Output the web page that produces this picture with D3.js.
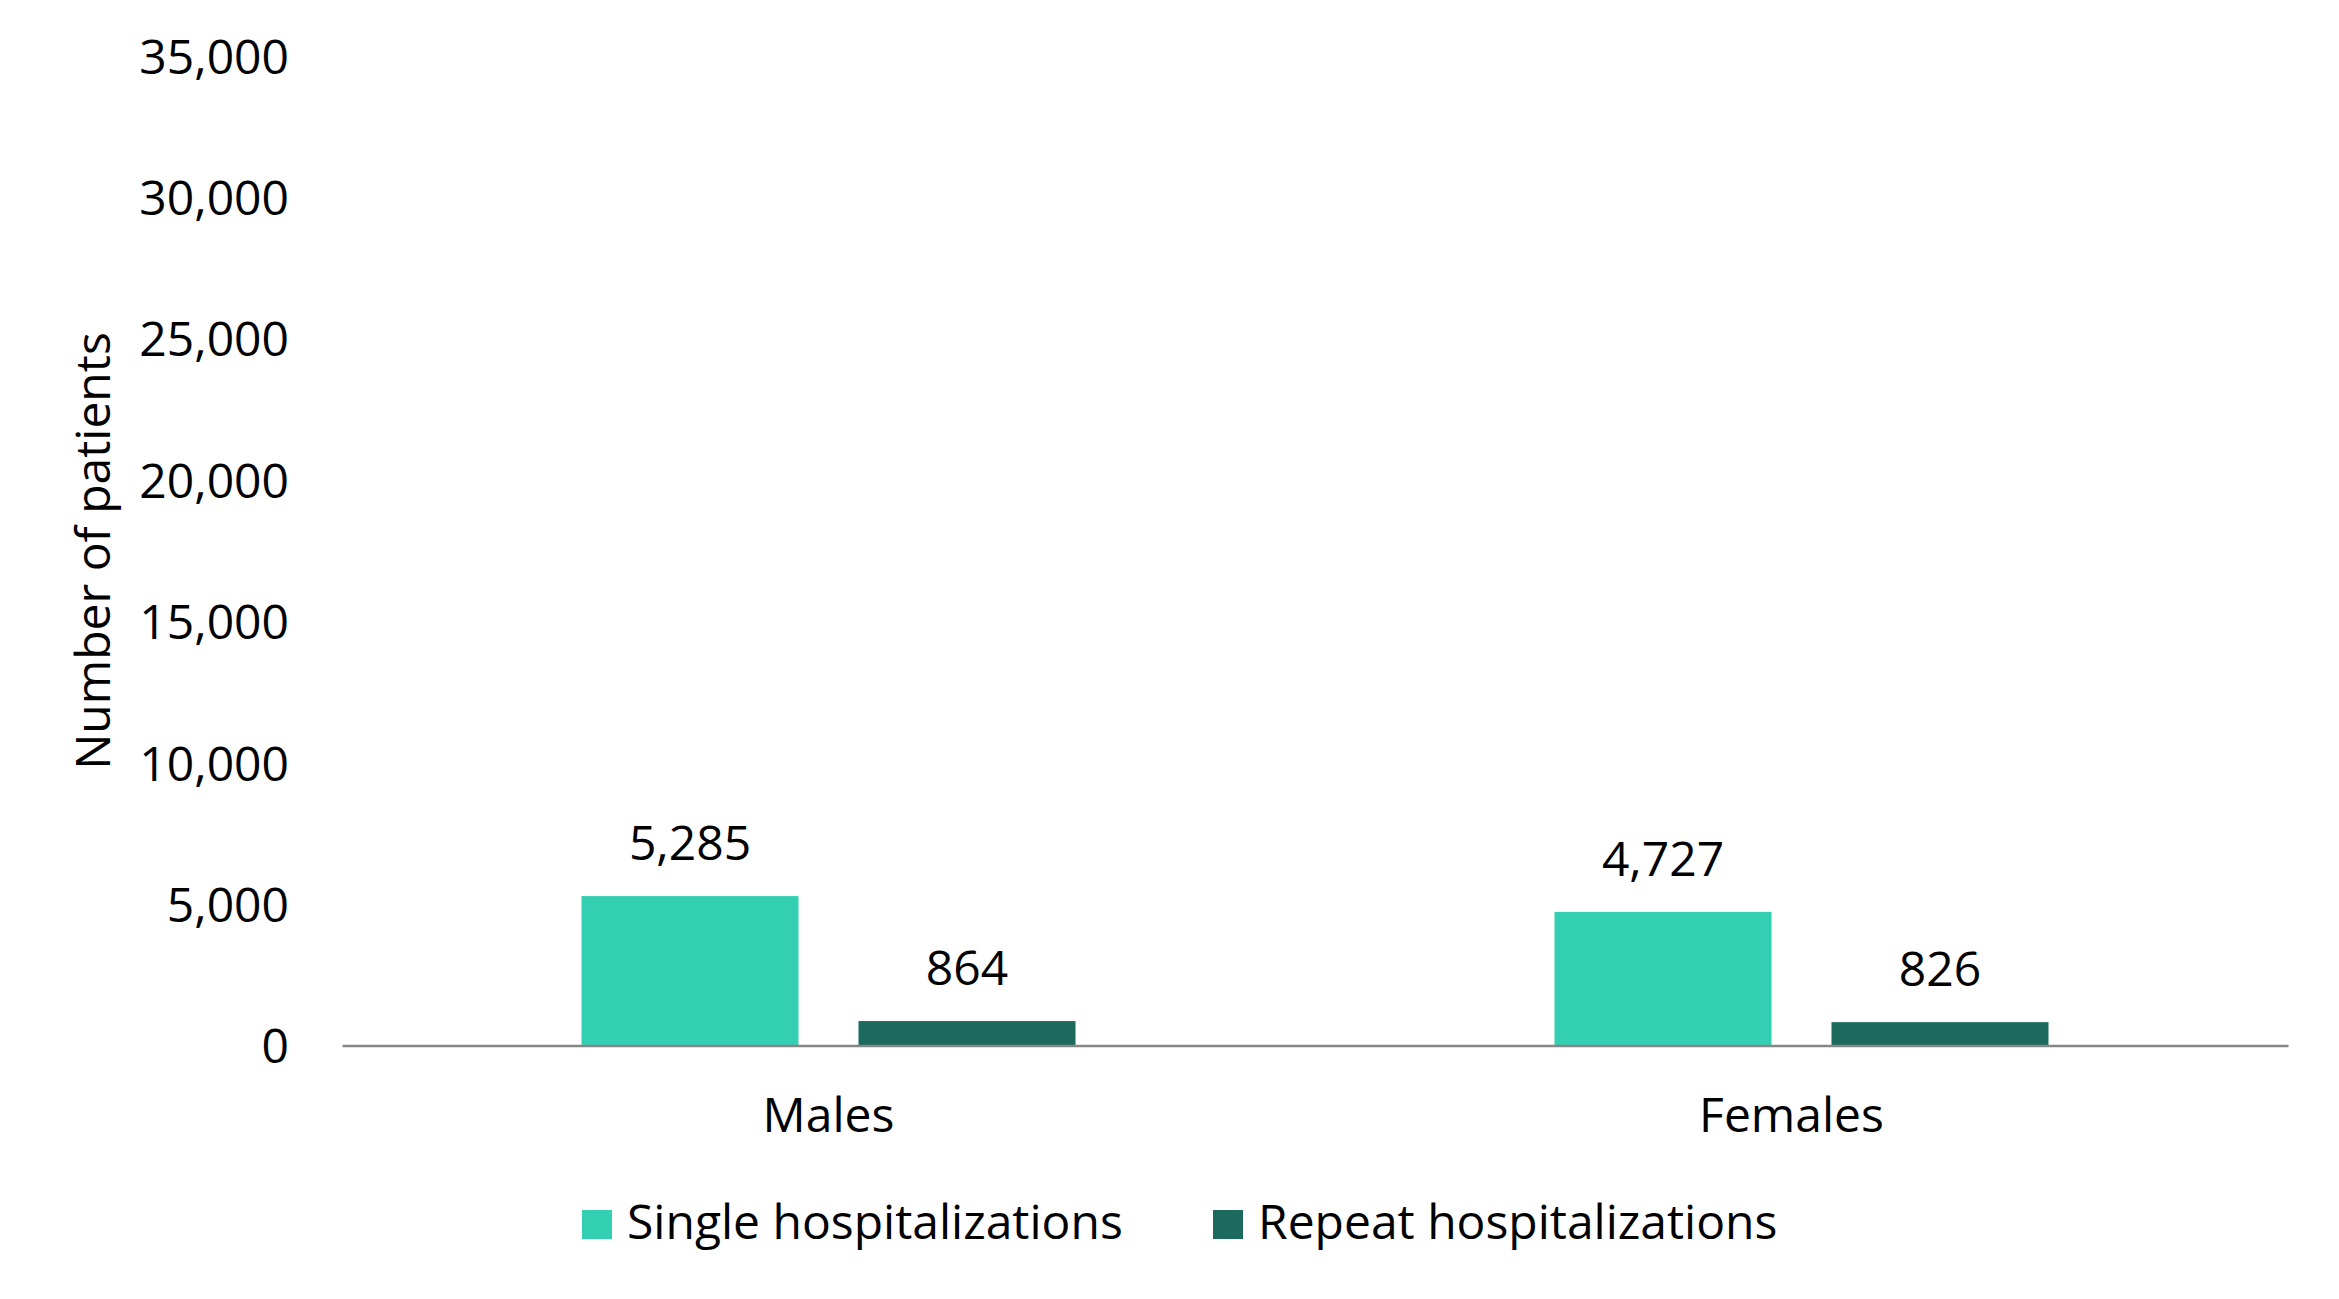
<!DOCTYPE html>
<html>
<head>
<meta charset="utf-8">
<script src="https://cdn.jsdelivr.net/npm/d3@7"></script>
<style>
  html, body { margin: 0; padding: 0; background: #ffffff; }
  svg { display: block; }
  text { font-family: "Open Sans", "Noto Sans", sans-serif; fill: #000; }
</style>
</head>
<body>
<svg id="chart" width="2339" height="1299"></svg>
<script>
const categories = ["Males", "Females"];
const seriesNames = ["Single hospitalizations", "Repeat hospitalizations"];
const singleValues = [5285, 4727];
const repeatValues = [864, 826];
const yTickValues = [0, 5000, 10000, 15000, 20000, 25000, 30000, 35000];
const yTitle = "Number of patients";
const colors = ["#33CFB3", "#1B6A5D"];

const series = [singleValues, repeatValues];

const svg = d3.select("#chart");
const plot = { left: 342, right: 2288, top: 56, bottom: 1045.5 };
const fontSize = 48;

const x0 = d3.scaleBand().domain(categories).range([plot.left, plot.right]).padding(0);
const groupWidth = 494;
const x1 = d3.scaleBand().domain(seriesNames).range([0, groupWidth]).paddingInner(0.2166).paddingOuter(0);
const y = d3.scaleLinear().domain([0, 35000]).range([plot.bottom, plot.top]);

// Y axis (labels only)
const yAxis = d3.axisLeft(y).tickValues(yTickValues).tickFormat(d3.format(",")).tickSize(0).tickPadding(53);
const gy = svg.append("g").attr("transform", `translate(${plot.left},0)`).call(yAxis);
gy.select(".domain").remove();
gy.selectAll("text").attr("font-size", fontSize).attr("font-family", "Open Sans").attr("fill", "#000").attr("dy", "0.36em");

// Bars
const groupOffset = (x0.bandwidth() - groupWidth) / 2;
categories.forEach((cat, ci) => {
  seriesNames.forEach((s, si) => {
    const v = series[si][ci];
    const bx = x0(cat) + groupOffset + x1(s);
    svg.append("rect")
      .attr("x", bx)
      .attr("y", y(v))
      .attr("width", x1.bandwidth())
      .attr("height", y(0) - y(v))
      .attr("fill", colors[si]);
    svg.append("text")
      .attr("x", bx + x1.bandwidth() / 2)
      .attr("y", y(v) - 36)
      .attr("text-anchor", "middle")
      .attr("font-size", fontSize)
      .text(d3.format(",")(v));
  });
});

// X axis
const xAxis = d3.axisBottom(x0).tickSize(0).tickSizeOuter(0).tickPadding(0);
const gx = svg.append("g").attr("transform", `translate(0,${plot.bottom})`).call(xAxis);
gx.select(".domain").attr("stroke", "#868686").attr("stroke-width", 2.5);
gx.selectAll("text").attr("font-size", fontSize).attr("font-family", "Open Sans").attr("fill", "#000")
  .attr("dy", null).attr("y", 86)
  .attr("dx", (d, i) => i === 1 ? -10 : 0);

// Y title
svg.append("text")
  .attr("transform", `translate(110,551) rotate(-90)`)
  .attr("text-anchor", "middle")
  .attr("font-size", fontSize)
  .text(yTitle);

// Legend
const legendX = [582, 1213];
const legendY = 1210;
seriesNames.forEach((s, si) => {
  svg.append("rect").attr("x", legendX[si]).attr("y", legendY).attr("width", 30).attr("height", 29).attr("fill", colors[si]);
  svg.append("text").attr("x", legendX[si] + 45).attr("y", legendY + 29).attr("font-size", fontSize).text(s);
});
</script>
</body>
</html>
